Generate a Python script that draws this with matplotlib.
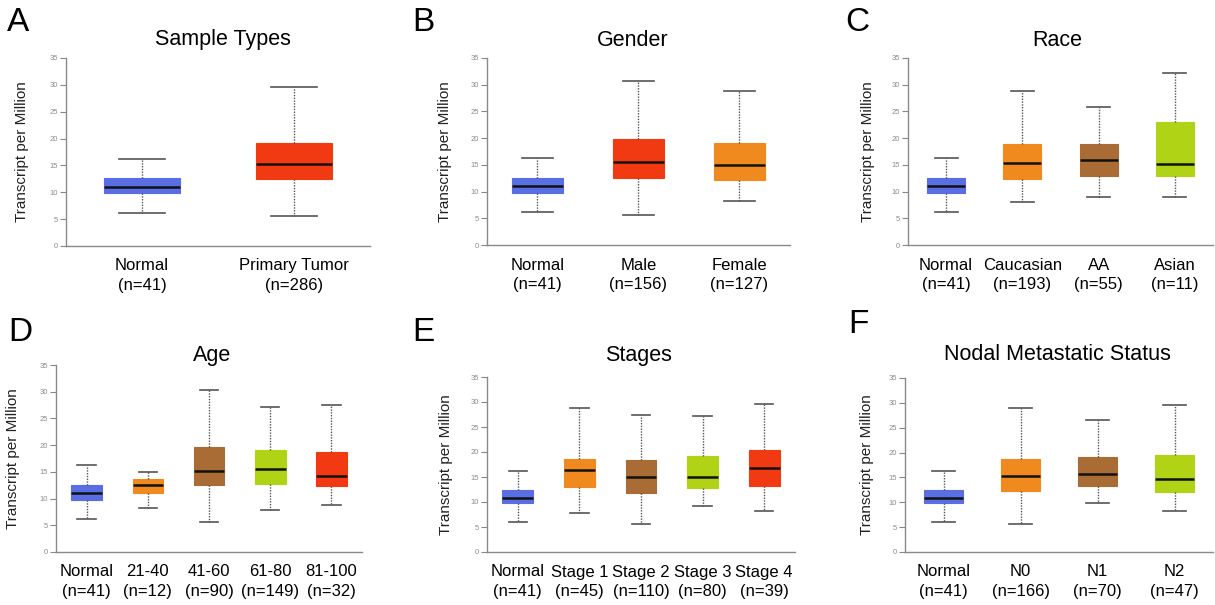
import matplotlib
matplotlib.use("Agg")
import matplotlib.pyplot as plt

plt.rcParams['font.family'] = ['Liberation Sans', 'DejaVu Sans']

BLUE = "#5a6ee4"
RED = "#f23a12"
ORANGE = "#f08a1e"
BROWN = "#a96c34"
LIME = "#b1d316"

# A - Sample Types
a_cats = ["Normal", "Primary Tumor"]
a_n = [41, 286]
a_low = [6.1, 5.6]
a_q1 = [9.8, 12.4]
a_med = [11.0, 15.3]
a_q3 = [12.6, 19.2]
a_high = [16.2, 29.6]

# B - Gender
b_cats = ["Normal", "Male", "Female"]
b_n = [41, 156, 127]
b_low = [6.1, 5.6, 8.2]
b_q1 = [9.7, 12.5, 12.2]
b_med = [11.0, 15.5, 14.9]
b_q3 = [12.6, 19.9, 19.1]
b_high = [16.2, 30.7, 28.9]

# C - Race
c_cats = ["Normal", "Caucasian", "AA", "Asian"]
c_n = [41, 193, 55, 11]
c_low = [6.1, 8.0, 8.9, 9.0]
c_q1 = [9.7, 12.3, 12.9, 13.0]
c_med = [11.0, 15.3, 15.9, 15.1]
c_q3 = [12.6, 18.9, 18.9, 23.0]
c_high = [16.2, 28.9, 25.9, 32.1]

# D - Age
d_cats = ["Normal", "21-40", "41-60", "61-80", "81-100"]
d_n = [41, 12, 90, 149, 32]
d_low = [6.1, 8.2, 5.6, 7.8, 8.8]
d_q1 = [9.7, 11.1, 12.6, 12.7, 12.3]
d_med = [11.0, 12.6, 15.2, 15.6, 14.2]
d_q3 = [12.6, 13.6, 19.7, 19.1, 18.8]
d_high = [16.2, 14.9, 30.3, 27.2, 27.5]

# E - Stages
e_cats = ["Normal", "Stage 1", "Stage 2", "Stage 3", "Stage 4"]
e_n = [41, 45, 110, 80, 39]
e_low = [6.1, 7.8, 5.7, 9.2, 8.2]
e_q1 = [9.8, 13.0, 11.8, 12.8, 13.3]
e_med = [10.9, 16.5, 15.0, 15.1, 16.8]
e_q3 = [12.5, 18.6, 18.5, 19.3, 20.5]
e_high = [16.2, 28.9, 27.5, 27.2, 29.6]

# F - Nodal Metastatic Status
f_cats = ["Normal", "N0", "N1", "N2"]
f_n = [41, 166, 70, 47]
f_low = [6.0, 5.6, 9.9, 8.3]
f_q1 = [9.8, 12.3, 13.2, 12.1]
f_med = [10.9, 15.2, 15.6, 14.6]
f_q3 = [12.5, 18.7, 19.2, 19.5]
f_high = [16.2, 28.9, 26.5, 29.6]

W, H = 1215, 605
fig = plt.figure(figsize=(W / 100, H / 100), dpi=100)

panels = [
    # letter, title, cats, n, stats, colors, (left, right, top, bottom px), title xy, letter xy, ylabel offset
    ("A", "Sample Types", a_cats, a_n, (a_low, a_q1, a_med, a_q3, a_high),
     [BLUE, RED], (66, 370, 58, 246), (223, 40), (7, 7), 37),
    ("B", "Gender", b_cats, b_n, (b_low, b_q1, b_med, b_q3, b_high),
     [BLUE, RED, ORANGE], (487, 790, 58, 245), (633, 40), (412, 7), 35),
    ("C", "Race", c_cats, c_n, (c_low, c_q1, c_med, c_q3, c_high),
     [BLUE, ORANGE, BROWN, LIME], (908, 1213, 58, 245), (1057, 40), (845, 7), 33),
    ("D", "Age", d_cats, d_n, (d_low, d_q1, d_med, d_q3, d_high),
     [BLUE, ORANGE, BROWN, LIME, RED], (56, 362, 365, 552), (212, 355), (8, 317), 36),
    ("E", "Stages", e_cats, e_n, (e_low, e_q1, e_med, e_q3, e_high),
     [BLUE, ORANGE, BROWN, LIME, RED], (487, 795, 377, 552), (639, 355), (412, 317), 34),
    ("F", "Nodal Metastatic Status", f_cats, f_n, (f_low, f_q1, f_med, f_q3, f_high),
     [BLUE, ORANGE, BROWN, LIME], (905, 1213, 378, 552), (1057, 355), (848, 309), 31),
]

for letter, title, cats, ns, stats, colors, box, txy, lxy, yoff in panels:
    l, r, t, b = box
    ax = fig.add_axes([l / W, 1 - b / H, (r - l) / W, (b - t) / H])
    low, q1, med, q3, high = stats
    bstats = []
    for i in range(len(cats)):
        bstats.append(dict(whislo=low[i], q1=q1[i], med=med[i], q3=q3[i],
                           whishi=high[i], fliers=[]))
    res = ax.bxp(bstats, positions=range(len(cats)), widths=0.5,
                 patch_artist=True, showfliers=False, capwidths=0.3,
                 whiskerprops=dict(color="#555555", linestyle=(0, (1, 1)), linewidth=1),
                 capprops=dict(color="#555555", linewidth=1.2),
                 medianprops=dict(color="#111111", linewidth=1.8),
                 boxprops=dict(linewidth=0.8))
    for patch, c in zip(res["boxes"], colors):
        patch.set_facecolor(c)
        patch.set_edgecolor(c)
        patch.set_alpha(1)
    ax.set_xlim(-0.5, len(cats) - 0.5)
    ax.set_ylim(0, 35)
    ax.set_yticks(range(0, 36, 5))
    ax.set_xticks(range(len(cats)))
    ax.set_xticklabels([f"{c}\n(n={n})" for c, n in zip(cats, ns)],
                       fontsize=12, linespacing=1.35)
    ax.tick_params(axis="x", length=0, pad=9)
    ax.tick_params(axis="y", length=4, width=0.8, color="#888888",
                   labelcolor="#8c8c8c", labelsize=5.5, pad=2)
    for s in ["top", "right"]:
        ax.spines[s].set_visible(False)
    for s in ["left", "bottom"]:
        ax.spines[s].set_color("#8a8a8a")
        ax.spines[s].set_linewidth(1)
    ax.set_ylabel("Transcript per Million", fontsize=11, color="#222222")
    ax.yaxis.set_label_coords(-yoff / (r - l), 0.5)
    fig.text(txy[0] / W, 1 - txy[1] / H, title, fontsize=15.5, ha="center", va="center")
    fig.text(lxy[0] / W, 1 - lxy[1] / H, letter, fontsize=24, ha="left", va="top")

fig.savefig("out.png", dpi=100)
